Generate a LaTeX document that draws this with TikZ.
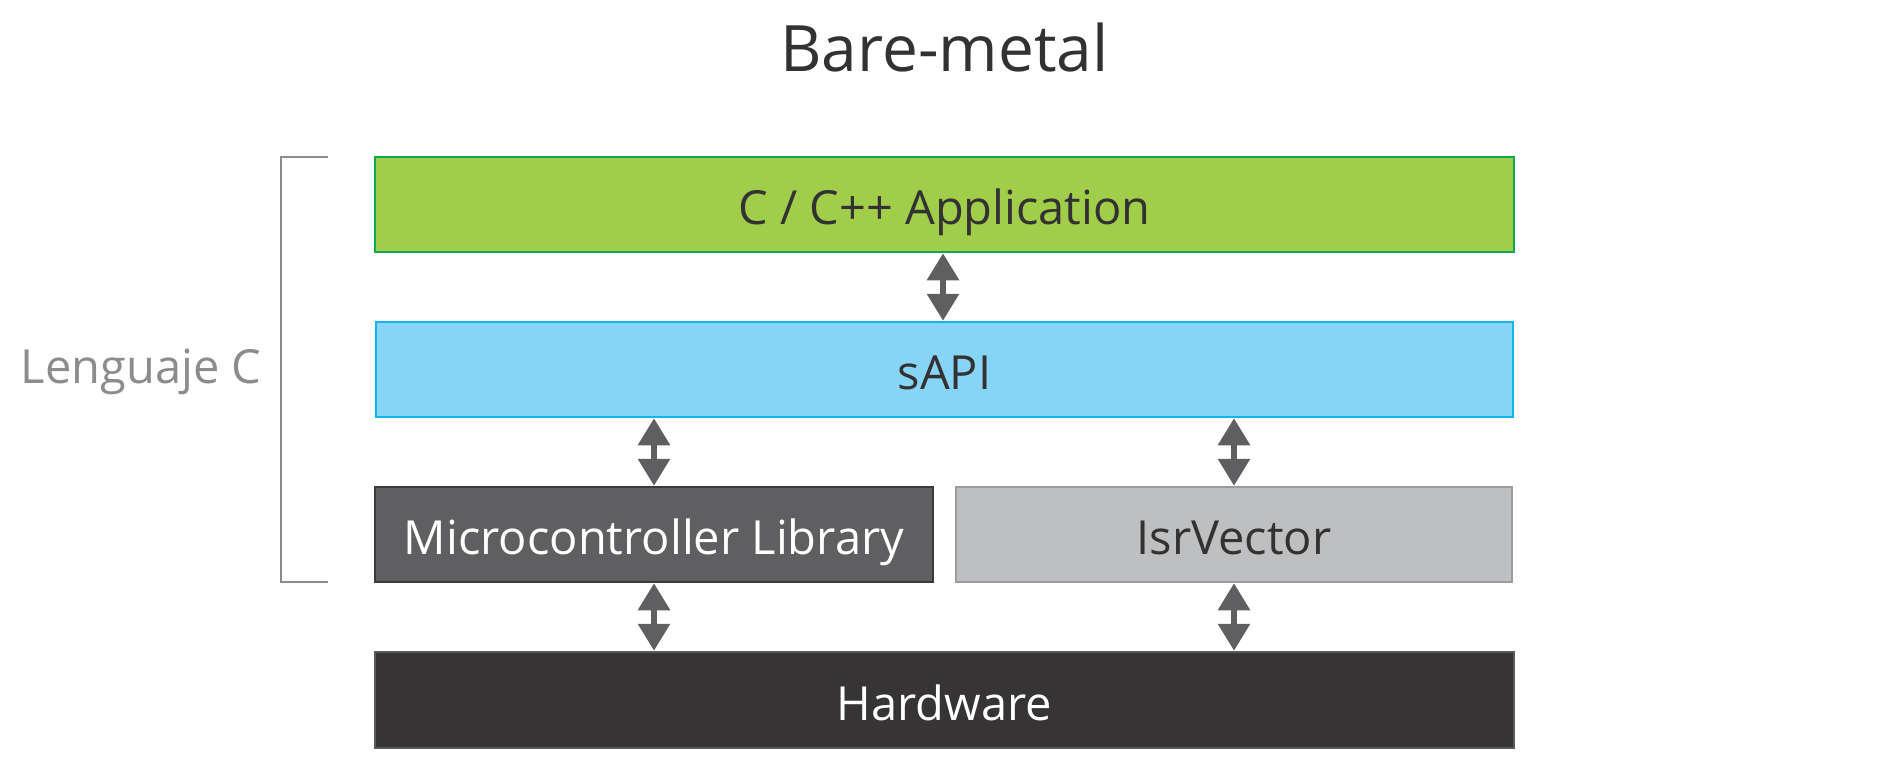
\documentclass[tikz,border=0pt]{standalone}
\usepackage{fontspec}
\setmainfont{Open Sans}
\usetikzlibrary{arrows.meta}
\definecolor{txt}{HTML}{333132}
\definecolor{gfill}{HTML}{A0CD4A}
\definecolor{gline}{HTML}{10A851}
\definecolor{bfill}{HTML}{87D5F6}
\definecolor{bline}{HTML}{13B3EB}
\definecolor{dfill}{HTML}{5F5F61}
\definecolor{dline}{HTML}{3C3B3C}
\definecolor{lfill}{HTML}{BEBFC1}
\definecolor{lline}{HTML}{9C9C9E}
\definecolor{hfill}{HTML}{363435}
\definecolor{hline}{HTML}{5A5A5A}
\definecolor{arr}{HTML}{5F5F61}
\definecolor{brk}{HTML}{8C8C8C}
\begin{document}
\begin{tikzpicture}[x=1pt,y=-1pt,
  layer/.style={draw, line width=2.5pt, inner sep=0pt, minimum height=95pt,
    text height=40pt, text depth=0pt,
    font=\fontsize{47}{55}\selectfont},
  dbl/.style={arr, line width=6pt, {Triangle[width=31pt,length=27pt]}-{Triangle[width=31pt,length=27pt]}, shorten <=0pt, shorten >=0pt}]
\useasboundingbox (0,0) rectangle (1890,769);
\node[font=\fontsize{64}{72}\selectfont, text=txt, anchor=base] (title) at (944.5,71) {Bare-metal};
\node[layer, fill=gfill, draw=gline, text=txt, minimum width=1139pt] (app) at (944.5,204.5) {C / C++ Application};
\node[layer, fill=bfill, draw=bline, text=txt, minimum width=1137pt] (sapi) at (944.5,369.5) {sAPI};
\node[layer, fill=dfill, draw=dline, text=white, minimum width=558pt] (mcl) at (654,534.5) {Microcontroller Library};
\node[layer, fill=lfill, draw=lline, text=txt, minimum width=556pt] (isr) at (1234,534.5) {IsrVector};
\node[layer, fill=hfill, draw=hline, text=white, minimum width=1139pt, minimum height=96pt] (hw) at (944.5,700) {Hardware};
\coordinate (a1) at (943,0);
\coordinate (a2) at (654,0);
\coordinate (a3) at (1234,0);
\draw[dbl] (app.south -| a1) -- (sapi.north -| a1);
\draw[dbl] (sapi.south -| a2) -- (mcl.north -| a2);
\draw[dbl] (sapi.south -| a3) -- (isr.north -| a3);
\draw[dbl] (mcl.south -| a2) -- (hw.north -| a2);
\draw[dbl] (isr.south -| a3) -- (hw.north -| a3);
\coordinate (bt) at (328,157);
\coordinate (bb) at (328,582);
\draw[brk, line width=2.5pt] (bt) -- (281,157) -- (281,582) -- (bb);
\node[font=\fontsize{47}{55}\selectfont, text=brk, anchor=base] (lang) at (141,383) {Lenguaje C};
\end{tikzpicture}
\end{document}
